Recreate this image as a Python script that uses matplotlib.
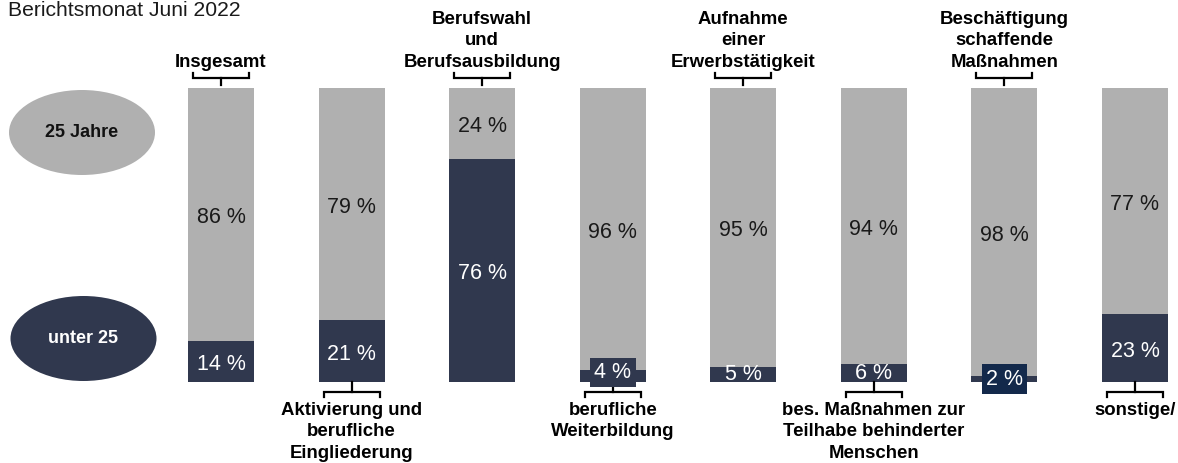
import matplotlib
matplotlib.use("Agg")
import matplotlib.pyplot as plt
from matplotlib.patches import Ellipse
import numpy as np

plt.rcParams['font.family'] = ['Liberation Sans', 'DejaVu Sans']

title = "Berichtsmonat Juni 2022"
categories = [
    "Insgesamt",
    "Aktivierung und\nberufliche\nEingliederung",
    "Berufswahl\nund\nBerufsausbildung",
    "berufliche\nWeiterbildung",
    "Aufnahme\neiner\nErwerbstätigkeit",
    "bes. Maßnahmen zur\nTeilhabe behinderter\nMenschen",
    "Beschäftigung\nschaffende\nMaßnahmen",
    "sonstige/",
]
under25 = [14, 21, 76, 4, 5, 6, 2, 23]
over25 = [86, 79, 24, 96, 95, 94, 98, 77]
legend_labels = ["25 Jahre", "unter 25"]

GREY = "#b0b0b0"
NAVY = "#30384e"
DARKBOX = "#13294b"

W, H = 1178, 463
fig = plt.figure(figsize=(W / 100, H / 100), dpi=100)
ax = fig.add_axes([0, 0, 1, 1])

# pixel mapping: bar centers at 221 + i*130.57 px, y=0 at 382px, y=100 at 88px
sx = 130.57
sy = 2.94
ax.set_xlim(-221 / sx, (W - 221) / sx)
ax.set_ylim(-(H - 382) / sy, 100 + 88 / sy)
ax.axis("off")

x = np.arange(len(categories))
bw = 66 / sx
ax.bar(x, under25, width=bw, color=NAVY, linewidth=0)
ax.bar(x, over25, width=bw, bottom=under25, color=GREY, linewidth=0)

PFS = 15.5
dy = 1.1
for i, (u, o) in enumerate(zip(under25, over25)):
    ax.text(i, u + o / 2 - dy, f"{o} %", ha="center", va="center", fontsize=PFS, color="#1a1a1a")
    if u <= 4:
        box = dict(boxstyle="square,pad=0.2", fc=(DARKBOX if u <= 2 else NAVY), ec="none")
        ax.text(i, u / 2 + (1.2 if u > 2 else 0), f"{u} %", ha="center", va="center",
                fontsize=PFS, color="white", bbox=box)
    else:
        ax.text(i, u / 2 - (dy if u > 10 else 0), f"{u} %", ha="center", va="center",
                fontsize=PFS, color="white")

# brackets and category labels
hw = 28 / sx
LFS = 13.4
for i, lab in enumerate(categories):
    if i % 2 == 0:
        yl, ye, yt = (382 - 78) / sy, (382 - 73) / sy, (382 - 85) / sy
        ax.plot([i - hw, i - hw, i + hw, i + hw], [ye, yl, yl, ye], color="black", lw=1.6,
                solid_joinstyle="miter")
        ax.plot([i, i], [yl, yt], color="black", lw=1.6)
        ax.text(i, (382 - 71) / sy, lab, ha="center", va="bottom", fontsize=LFS,
                fontweight="bold", linespacing=1.36)
    else:
        yl, ye, yt = -(392 - 382) / sy, -(397 - 382) / sy, 0
        ax.plot([i - hw, i - hw, i + hw, i + hw], [ye, yl, yl, ye], color="black", lw=1.6,
                solid_joinstyle="miter")
        ax.plot([i, i], [yl, yt], color="black", lw=1.6)
        ax.text(i, -(402 - 382) / sy, lab, ha="center", va="top", fontsize=LFS,
                fontweight="bold", linespacing=1.33)

# legend ellipses
ew, eh = 146 / sx, 85 / sy
e1 = Ellipse(((82 - 221) / sx, (382 - 132.5) / sy), ew, eh, fc=GREY, ec="none")
e2 = Ellipse(((83.5 - 221) / sx, (382 - 338.5) / sy), ew, eh, fc=NAVY, ec="none")
ax.add_patch(e1)
ax.add_patch(e2)
ax.text((82 - 221) / sx, (382 - 132.5) / sy, legend_labels[0], ha="center", va="center",
        fontsize=13, fontweight="bold", color="#111111")
ax.text((83.5 - 221) / sx, (382 - 338.5) / sy, legend_labels[1], ha="center", va="center",
        fontsize=13, fontweight="bold", color="white")

fig.text(8 / W, 1 - 1 / H, title, ha="left", va="top", fontsize=15.2, color="#1a1a1a")

fig.savefig("out.png", dpi=100)
